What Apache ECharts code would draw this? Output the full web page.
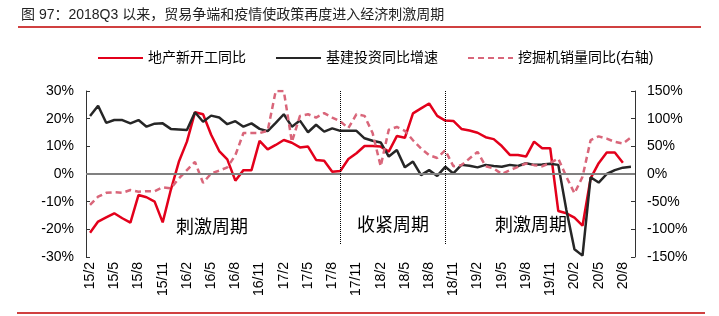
<!DOCTYPE html>
<html lang="zh-CN">

<head>
  <meta charset="UTF-8">
  <title>图 97</title>
  <script src="https://cdn.jsdelivr.net/npm/echarts@6.0.0/dist/echarts.min.js"></script>
  <style>
    body { margin: 0; background: #fff; }
    #main { width: 719px; height: 316px; }
  </style>
</head>

<body>
  <div id="main"></div>

  <script>
    var months = [
      '15/2', '15/3', '15/4', '15/5', '15/6', '15/7', '15/8', '15/9', '15/10', '15/11', '15/12',
      '16/1', '16/2', '16/3', '16/4', '16/5', '16/6', '16/7', '16/8', '16/9', '16/10', '16/11', '16/12',
      '17/1', '17/2', '17/3', '17/4', '17/5', '17/6', '17/7', '17/8', '17/9', '17/10', '17/11', '17/12',
      '18/1', '18/2', '18/3', '18/4', '18/5', '18/6', '18/7', '18/8', '18/9', '18/10', '18/11', '18/12',
      '19/1', '19/2', '19/3', '19/4', '19/5', '19/6', '19/7', '19/8', '19/9', '19/10', '19/11', '19/12',
      '20/1', '20/2', '20/3', '20/4', '20/5', '20/6', '20/7', '20/8', '20/9'
    ]
    // 地产新开工同比 (%)
    var housingStarts = [
      -21.2, -17.2, -15.7, -14.2, -16.0, -17.6, -7.6, -8.4, -10.0, -17.5, -5.8,
      4.4, 11.7, 22.3, 21.6, 14.2, 8.3, 5.3, -2.4, 1.4, 1.4, 12.0, 8.9,
      10.5, 12.3, 11.3, 9.6, 9.9, 5.1, 4.8, 0.8, 1.1, 5.4, 7.5, 10.1,
      10.1, 9.9, 8.1, 13.7, 13.1, 21.9, 23.7, 25.5, 21.0, 19.3, 19.2, 16.3,
      15.7, 14.9, 13.3, 12.6, 10.1, 6.9, 6.9, 6.3, 11.7, 9.3, 9.3, -13.4,
      -14.2, -15.8, -18.7, -1.6, 3.9, 7.8, 7.8, 4.1, null
    ]
    // 基建投资同比增速 (%)
    var infraInvest = [
      21.0, 24.7, 18.5, 19.5, 19.5, 18.3, 19.5, 17.1, 18.2, 18.3, 16.3,
      16.1, 15.9, 22.3, 18.9, 21.1, 20.4, 18.0, 19.1, 17.1, 18.3, 16.3, 15.5,
      18.5, 21.6, 17.1, 19.3, 15.1, 17.8, 15.3, 16.5, 15.6, 15.6, 15.6, 12.9,
      12.0, 11.4, 6.3, 8.7, 2.4, 4.5, -0.4, 1.4, -0.7, 2.6, 0.2, 3.3,
      3.0, 2.4, 3.3, 2.9, 2.6, 3.3, 2.9, 3.9, 3.3, 3.4, 3.7, 3.3,
      -13.0, -27.2, -29.5, -1.2, -3.1, 0.0, 1.4, 2.3, 2.6
    ]
    // 挖掘机销量同比 (%, 右轴)
    var excavatorSales = [
      -56, -41, -34, -33, -34, -29, -32, -31, -31, -24, -26,
      -8, 7, 22, -16, 1, 6, 12, 34, 74, 74, 74, 78,
      150, 150, 58, 105, 108, 102, 110, 102, 95, 83, 108, 105,
      74, 14, 80, 85, 78, 61, 46, 34, 29, 43, 14, 16,
      28, 40, 14, 10, 0, 7, 13, 19, 16, 14, 20, 28,
      -5, -35, -5, 61, 68, 64, 58, 55, 66
    ]
    var leftTicks = { min: -30, max: 30, interval: 10 }
    var rightTicks = { min: -150, max: 150, interval: 50 }
    var phaseBreaks = ['17/9', '18/10']
    var phaseLabels = ['刺激周期', '收紧周期', '刺激周期']

    var FONT = '"Liberation Sans", Arial, "Noto Sans CJK SC", sans-serif'
    var CJK = '"Noto Sans CJK SC", "Liberation Sans", sans-serif'

    var mCharts = echarts.init(document.getElementById('main'))

    var yAxisCommon = {
      type: 'value',
      splitLine: { show: false },
      axisLine: { show: true, lineStyle: { color: '#333', width: 1 } },
      axisTick: { show: true, inside: true, length: 4, lineStyle: { color: '#333' } },
      axisLabel: { color: '#000', fontSize: 14, fontFamily: FONT, margin: 12, formatter: '{value}%' }
    }

    var option = {
      animation: false,
      backgroundColor: '#fff',
      textStyle: { fontFamily: FONT },
      legend: {
        data: ['地产新开工同比', '基建投资同比增速', '挖掘机销量同比(右轴)'],
        left: 92,
        top: 46,
        itemWidth: 45,
        itemHeight: 14,
        itemGap: 29,
        itemStyle: { opacity: 0 },
        textStyle: { fontSize: 14, color: '#000', fontFamily: FONT }
      },
      grid: { left: 86, right: 84, top: 91, bottom: 59 },
      xAxis: {
        type: 'category',
        data: months,
        boundaryGap: true,
        axisLine: { show: false },
        axisTick: { show: false },
        axisLabel: { rotate: 90, interval: 2, margin: 5, fontSize: 14, color: '#000', fontFamily: FONT }
      },
      yAxis: [
        Object.assign({}, yAxisCommon, leftTicks, { position: 'left' }),
        Object.assign({}, yAxisCommon, rightTicks, { position: 'right' })
      ],
      series: [
        {
          // 零轴
          type: 'line',
          data: [],
          silent: true,
          markLine: {
            silent: true,
            symbol: 'none',
            label: { show: false },
            lineStyle: { color: '#808080', width: 2, type: 'solid' },
            data: [{ yAxis: 0 }]
          }
        },
        {
          name: '地产新开工同比',
          type: 'line',
          data: housingStarts,
          symbol: 'none',
          lineStyle: { color: '#E3001B', width: 2.5 },
          itemStyle: { color: '#E3001B' },
          markLine: {
            silent: true,
            symbol: 'none',
            label: { show: false },
            lineStyle: { color: '#000', width: 1, type: 'dotted' },
            data: phaseBreaks.map(function (m) {
              return [{ coord: [m, 30] }, { coord: [m, -25.6] }]
            })
          }
        },
        {
          name: '基建投资同比增速',
          type: 'line',
          data: infraInvest,
          symbol: 'none',
          lineStyle: { color: '#262626', width: 2.5 },
          itemStyle: { color: '#262626' }
        },
        {
          name: '挖掘机销量同比(右轴)',
          type: 'line',
          yAxisIndex: 1,
          data: excavatorSales,
          symbol: 'none',
          lineStyle: { color: '#D9667A', width: 2.5, type: [6, 4] },
          itemStyle: { color: '#D9667A' }
        }
      ],
      graphic: [
        { type: 'text', left: 21, top: 8, style: { text: '图 97：2018Q3 以来，贸易争端和疫情使政策再度进入经济刺激周期', fontSize: 14, fill: '#222', fontFamily: FONT } },
        { type: 'line', shape: { x1: 18, y1: 27, x2: 701, y2: 27 }, style: { stroke: '#C00000', lineWidth: 1.5 } },
        { type: 'line', shape: { x1: 17, y1: 313, x2: 705, y2: 313 }, style: { stroke: '#C00000', lineWidth: 1.5 } },
        { type: 'text', x: 212, y: 226, style: { text: phaseLabels[0], fontSize: 18, fill: '#000', fontFamily: CJK, align: 'center', verticalAlign: 'middle' } },
        { type: 'text', x: 393, y: 224, style: { text: phaseLabels[1], fontSize: 18, fill: '#000', fontFamily: CJK, align: 'center', verticalAlign: 'middle' } },
        { type: 'text', x: 531, y: 224, style: { text: phaseLabels[2], fontSize: 18, fill: '#000', fontFamily: CJK, align: 'center', verticalAlign: 'middle' } }
      ]
    }
    mCharts.setOption(option)
  </script>
</body>

</html>
